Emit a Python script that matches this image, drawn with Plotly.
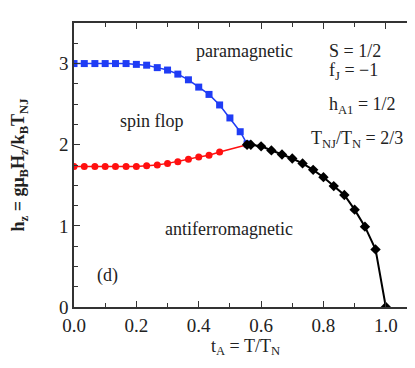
import plotly.graph_objects as go

# spin-flop boundary (blue squares)
sf_t = [0.0, 0.033, 0.067, 0.1, 0.133, 0.167, 0.2, 0.233, 0.267, 0.3, 0.333,
        0.367, 0.4, 0.433, 0.467, 0.5, 0.533, 0.555]
sf_h = [3.0, 3.0, 3.0, 3.0, 3.0, 3.0, 2.99, 2.98, 2.95, 2.92, 2.87,
        2.80, 2.71, 2.62, 2.49, 2.33, 2.16, 2.01]

# lower boundary (red circles)
af_t = [0.0, 0.033, 0.067, 0.1, 0.133, 0.167, 0.2, 0.233, 0.267, 0.3, 0.333,
        0.367, 0.4, 0.433, 0.467, 0.555]
af_h = [1.73, 1.73, 1.73, 1.73, 1.73, 1.73, 1.73, 1.74, 1.75, 1.77, 1.79,
        1.82, 1.85, 1.87, 1.91, 2.0]

# paramagnetic boundary (black diamonds)
pm_t = [0.555, 0.567, 0.6, 0.633, 0.667, 0.7, 0.733, 0.767, 0.8, 0.833,
        0.867, 0.9, 0.933, 0.967, 1.0]
pm_h = [2.0, 2.0, 1.98, 1.93, 1.88, 1.83, 1.77, 1.69, 1.60, 1.49,
        1.38, 1.20, 0.99, 0.71, 0.0]

FONT = "Times New Roman, Liberation Serif, serif"

fig = go.Figure()
fig.add_trace(go.Scatter(x=sf_t, y=sf_h, mode="lines+markers",
                         line=dict(color="#1f3cf5", width=1.5),
                         marker=dict(symbol="square", size=7, color="#1f3cf5")))
fig.add_trace(go.Scatter(x=af_t, y=af_h, mode="lines+markers",
                         line=dict(color="#ff1010", width=1.5),
                         marker=dict(symbol="circle", size=7, color="#ff1010")))
fig.add_trace(go.Scatter(x=pm_t, y=pm_h, mode="lines+markers",
                         line=dict(color="black", width=2),
                         marker=dict(symbol="diamond", size=8, color="black")))

labels = [
    (0.548, 3.16, "paramagnetic", "center"),
    (0.249, 2.29, "spin flop", "center"),
    (0.497, 0.96, "antiferromagnetic", "center"),
    (0.108, 0.39, "(d)", "center"),
    (0.81, 3.15, "S = 1/2", "left"),
    (0.81, 2.90, "f<sub>J</sub> = \u22121", "left"),
    (0.81, 2.48, "h<sub>A1</sub> = 1/2", "left"),
    (0.755, 2.07, "T<sub>NJ</sub>/T<sub>N</sub> = 2/3", "left"),
]
for x, y, txt, anc in labels:
    fig.add_annotation(x=x, y=y, text=txt, showarrow=False, xanchor=anc,
                       yanchor="middle", font=dict(family=FONT, size=18, color="#222"))

axis_style = dict(showline=True, linecolor="#333", linewidth=1.5, mirror="ticks",
                  ticks="inside", ticklen=6, tickwidth=1.2, tickcolor="#333",
                  showgrid=False, zeroline=False,
                  tickfont=dict(family=FONT, size=19, color="#222"))

fig.update_layout(
    width=415, height=368,
    margin=dict(l=66, r=4, t=15, b=69),
    plot_bgcolor="white", paper_bgcolor="white",
    showlegend=False,
    font=dict(family=FONT),
    xaxis=dict(range=[0, 1.1], dtick=0.2, tick0=0, tickformat=".1f",
               minor=dict(dtick=0.1, ticks="inside", ticklen=4, tickcolor="#333"),
               title=dict(text="t<sub>A</sub> = T/T<sub>N</sub>", standoff=4,
                          font=dict(family=FONT, size=18, color="#222")),
               **axis_style),
    yaxis=dict(range=[0, 3.5], dtick=1, tick0=0,
               minor=dict(dtick=0.25, ticks="inside", ticklen=4, tickcolor="#333"),
               title=dict(text="<b>h<sub>z</sub> = gμ<sub>B</sub>H<sub>z</sub>/k<sub>B</sub>T<sub>NJ</sub></b>",
                          standoff=34,
                          font=dict(family=FONT, size=18, color="#222")),
               **axis_style),
)

fig.write_html("out.html")
